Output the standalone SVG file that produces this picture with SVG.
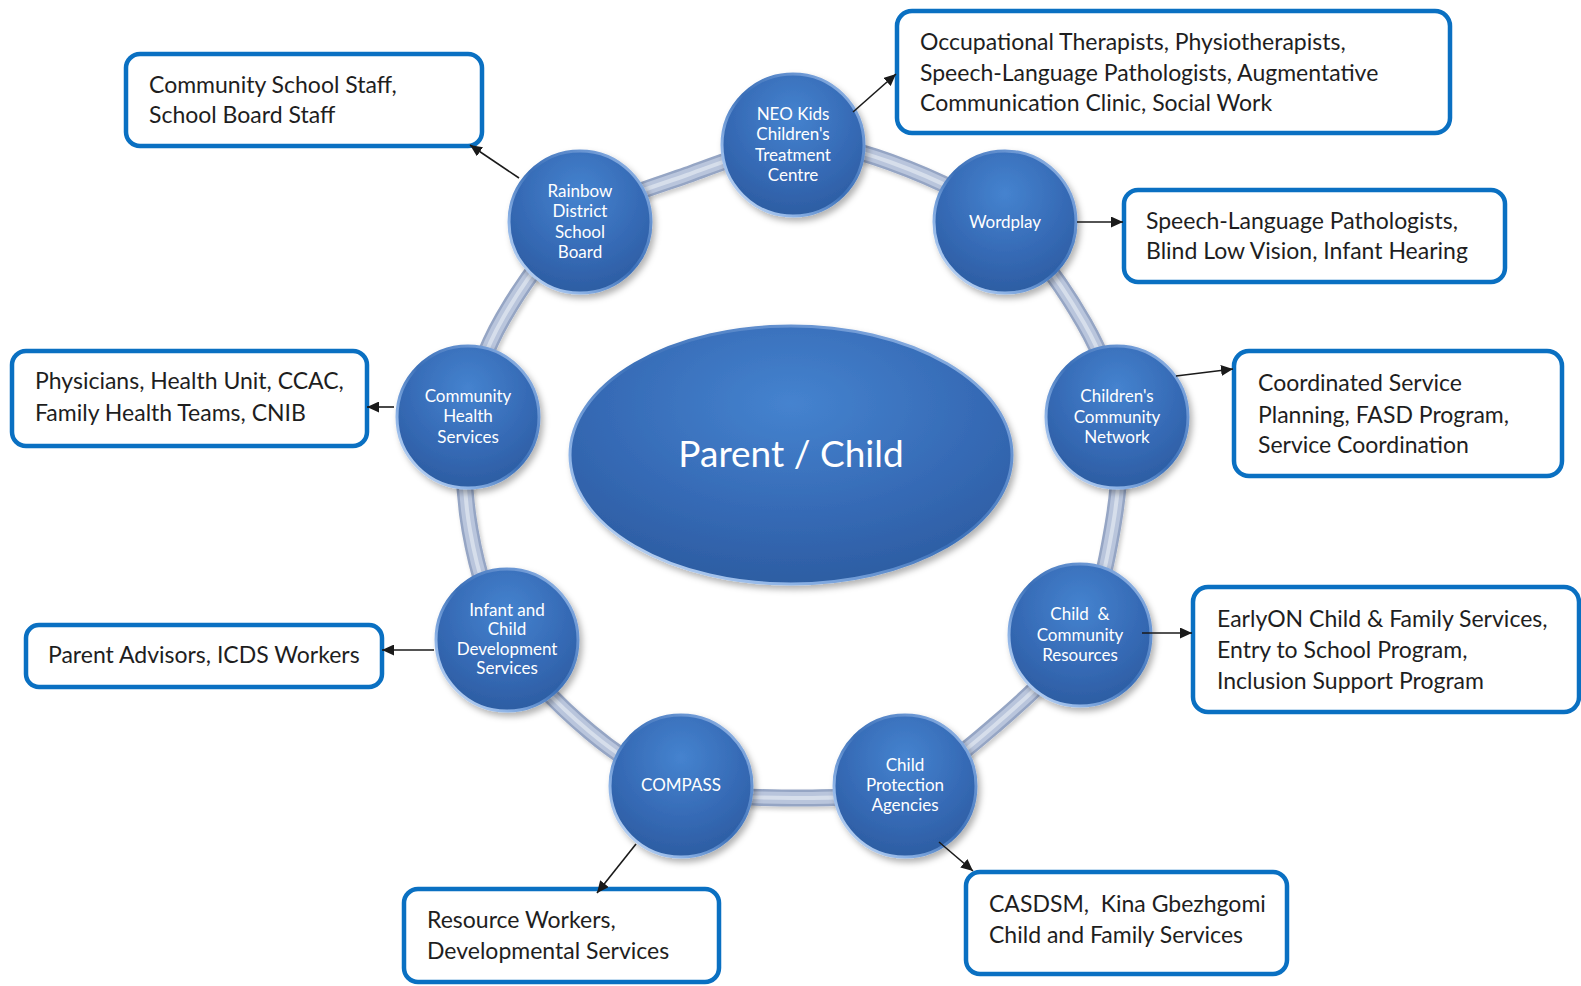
<svg xmlns="http://www.w3.org/2000/svg" width="1581" height="986" viewBox="0 0 1581 986">
<style>
.lbl{font-family:Lato,"Open Sans","Liberation Sans",sans-serif;font-size:17px;fill:#ffffff;text-anchor:middle}
.btxt{font-family:Lato,"Open Sans","Liberation Sans",sans-serif;font-size:23px;fill:#1e1e1e}
.box{fill:#ffffff;stroke:#0a70c2;stroke-width:4.5}
.ball{fill:url(#gBall);stroke:url(#gRim);stroke-width:3;filter:url(#sh)}
.conn line{stroke:#1a1a1a;stroke-width:1.6;marker-end:url(#ah)}
</style>
<defs>
<radialGradient id="gBall" cx="0.5" cy="0.3" r="0.75">
<stop offset="0" stop-color="#4583cf"/>
<stop offset="0.6" stop-color="#3569b4"/>
<stop offset="1" stop-color="#2b5b9f"/>
</radialGradient>
<linearGradient id="gRim" x1="0" y1="1" x2="1" y2="0">
<stop offset="0" stop-color="#dce9fa"/>
<stop offset="0.25" stop-color="#8db3e6"/>
<stop offset="0.5" stop-color="#3a6fb8"/>
<stop offset="0.8" stop-color="#6f9ad6"/>
<stop offset="1" stop-color="#b9d2f2"/>
</linearGradient>
<filter id="sh" x="-20%" y="-20%" width="150%" height="150%">
<feDropShadow dx="3" dy="4" stdDeviation="3" flood-color="#000" flood-opacity="0.3"/>
</filter>
<filter id="rsh" x="-10%" y="-10%" width="120%" height="120%">
<feDropShadow dx="2" dy="3" stdDeviation="2" flood-color="#000" flood-opacity="0.2"/>
</filter>
<marker id="ah" markerUnits="userSpaceOnUse" markerWidth="13" markerHeight="11" refX="12" refY="5.5" orient="auto">
<path d="M0,0 L12,5.5 L0,11 z" fill="#1a1a1a"/>
</marker>
<path id="ringPath" fill="none" d="M793,145 C826.8,142.8 854.7,149.2 890,162 C925.3,174.8 972.7,195.2 1005,222 C1037.3,248.8 1065.3,290.5 1084,323 C1102.7,355.5 1112.2,383.3 1117,417 C1121.8,450.7 1119.2,488.7 1113,525 C1106.8,561.3 1099.7,601.7 1080,635 C1060.3,668.3 1024.2,699.8 995,725 C965.8,750.2 938.7,773.8 905,786 C871.3,798.2 830.3,798 793,798 C755.7,798 714.8,797 681,786 C647.2,775 619,756.3 590,732 C561,707.7 527,673.7 507,640 C487,606.3 476.5,567.2 470,530 C463.5,492.8 462.5,452.3 468,417 C473.5,381.7 484.3,350.5 503,318 C521.7,285.5 549.3,245.8 580,222 C610.7,198.2 651.5,187.8 687,175 C722.5,162.2 759.2,147.2 793,145 Z"/>
</defs>
<rect width="1581" height="986" fill="#ffffff"/>

<g id="ring">
<use href="#ringPath" stroke="#95a5c4" stroke-width="17" filter="url(#rsh)"/>
<use href="#ringPath" stroke="#b9c5dc" stroke-width="12"/>
<use href="#ringPath" stroke="#d6deeb" stroke-width="4"/>
</g>

<g id="center">
<ellipse cx="791" cy="455" rx="221" ry="129" class="ball"/>
<text x="791" y="467" style="font-family:Lato,'Open Sans','Liberation Sans',sans-serif;font-size:37px;fill:#ffffff;text-anchor:middle">Parent / Child</text>
</g>

<g id="n-neo">
<circle cx="793" cy="145" r="71" class="ball"/>
<text class="lbl"><tspan x="793" y="120">NEO Kids</tspan><tspan x="793" y="140.3">Children's</tspan><tspan x="793" y="160.6">Treatment</tspan><tspan x="793" y="181">Centre</tspan></text>
</g>
<g id="n-wordplay">
<circle cx="1005" cy="222" r="71" class="ball"/>
<text class="lbl" x="1005" y="227.5">Wordplay</text>
</g>
<g id="n-ccn">
<circle cx="1117" cy="417" r="71" class="ball"/>
<text class="lbl"><tspan x="1117" y="402">Children's</tspan><tspan x="1117" y="422.5">Community</tspan><tspan x="1117" y="443">Network</tspan></text>
</g>
<g id="n-ccr">
<circle cx="1080" cy="635" r="71" class="ball"/>
<text class="lbl" xml:space="preserve"><tspan x="1080" y="620">Child  &amp;</tspan><tspan x="1080" y="640.5">Community</tspan><tspan x="1080" y="661">Resources</tspan></text>
</g>
<g id="n-cpa">
<circle cx="905" cy="786" r="71" class="ball"/>
<text class="lbl"><tspan x="905" y="770.5">Child</tspan><tspan x="905" y="790.8">Protection</tspan><tspan x="905" y="811">Agencies</tspan></text>
</g>
<g id="n-compass">
<circle cx="681" cy="786" r="71" class="ball"/>
<text class="lbl" x="681" y="790.8">COMPASS</text>
</g>
<g id="n-icds">
<circle cx="507" cy="640" r="71" class="ball"/>
<text class="lbl"><tspan x="507" y="616">Infant and</tspan><tspan x="507" y="635.3">Child</tspan><tspan x="507" y="654.6">Development</tspan><tspan x="507" y="674">Services</tspan></text>
</g>
<g id="n-chs">
<circle cx="468" cy="417" r="71" class="ball"/>
<text class="lbl"><tspan x="468" y="402">Community</tspan><tspan x="468" y="422">Health</tspan><tspan x="468" y="442.5">Services</tspan></text>
</g>
<g id="n-rainbow">
<circle cx="580" cy="222" r="71" class="ball"/>
<text class="lbl"><tspan x="580" y="197">Rainbow</tspan><tspan x="580" y="217.3">District</tspan><tspan x="580" y="237.6">School</tspan><tspan x="580" y="258">Board</tspan></text>
</g>

<g id="b-school">
<rect x="126" y="54" width="356" height="92" rx="14" class="box"/>
<text class="btxt"><tspan x="149" y="93">Community School Staff,</tspan><tspan x="149" y="123">School Board Staff</tspan></text>
</g>
<g id="b-neo">
<rect x="897" y="11" width="553" height="122" rx="15" class="box"/>
<text class="btxt"><tspan x="920" y="49.5">Occupational Therapists, Physiotherapists,</tspan><tspan x="920" y="80.5">Speech-Language Pathologists, Augmentative</tspan><tspan x="920" y="111">Communication Clinic, Social Work</tspan></text>
</g>
<g id="b-wordplay">
<rect x="1124" y="190" width="381" height="92" rx="14" class="box"/>
<text class="btxt"><tspan x="1146" y="229">Speech-Language Pathologists,</tspan><tspan x="1146" y="259">Blind Low Vision, Infant Hearing</tspan></text>
</g>
<g id="b-ccn">
<rect x="1234" y="351" width="328" height="125" rx="15" class="box"/>
<text class="btxt"><tspan x="1258" y="391">Coordinated Service</tspan><tspan x="1258" y="422.5">Planning, FASD Program,</tspan><tspan x="1258" y="453">Service Coordination</tspan></text>
</g>
<g id="b-ccr">
<rect x="1193" y="587" width="386" height="125" rx="15" class="box"/>
<text class="btxt"><tspan x="1217" y="627">EarlyON Child &amp; Family Services,</tspan><tspan x="1217" y="657.5">Entry to School Program,</tspan><tspan x="1217" y="689">Inclusion Support Program</tspan></text>
</g>
<g id="b-cpa">
<rect x="966" y="872" width="321" height="102" rx="14" class="box"/>
<text class="btxt" xml:space="preserve"><tspan x="989" y="911.5">CASDSM,  Kina Gbezhgomi</tspan><tspan x="989" y="943">Child and Family Services</tspan></text>
</g>
<g id="b-compass">
<rect x="404" y="889" width="315" height="93" rx="14" class="box"/>
<text class="btxt"><tspan x="427" y="927.6">Resource Workers,</tspan><tspan x="427" y="959">Developmental Services</tspan></text>
</g>
<g id="b-icds">
<rect x="26" y="625" width="356" height="62" rx="13" class="box"/>
<text class="btxt" x="48" y="662.5">Parent Advisors, ICDS Workers</text>
</g>
<g id="b-chs">
<rect x="12" y="351" width="355" height="95" rx="14" class="box"/>
<text class="btxt"><tspan x="35" y="389">Physicians, Health Unit, CCAC,</tspan><tspan x="35" y="420.5">Family Health Teams, CNIB</tspan></text>
</g>

<g id="connectors" class="conn">
<line x1="519" y1="178" x2="470" y2="145"/>
<line x1="853" y1="112" x2="896" y2="74"/>
<line x1="1077" y1="222" x2="1123" y2="222"/>
<line x1="1176" y1="376" x2="1233" y2="369"/>
<line x1="1142" y1="633" x2="1192" y2="633"/>
<line x1="939" y1="842" x2="973" y2="871"/>
<line x1="636" y1="844" x2="597" y2="893"/>
<line x1="434" y1="650" x2="382" y2="650"/>
<line x1="394" y1="407" x2="367" y2="407"/>
</g>
</svg>
